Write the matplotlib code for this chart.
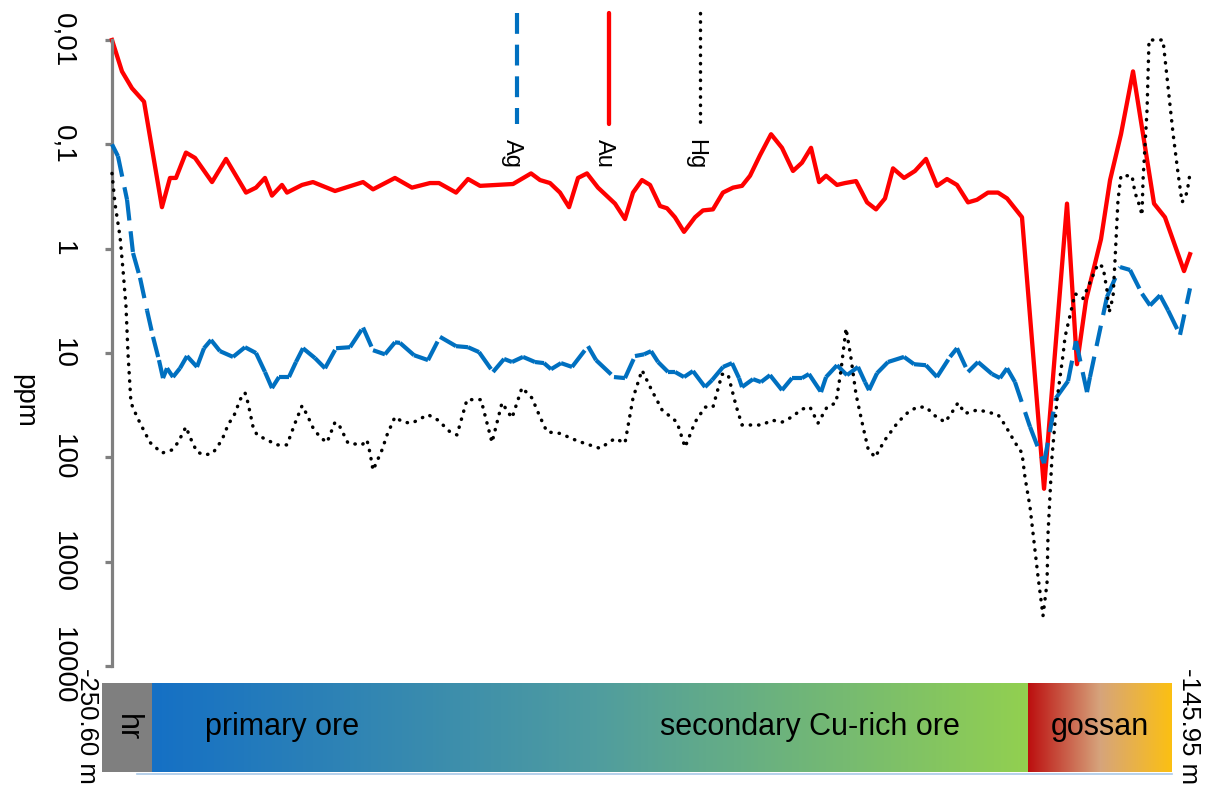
import matplotlib
matplotlib.use('Agg')
import matplotlib.pyplot as plt
import numpy as np
from matplotlib.collections import LineCollection
from matplotlib.colors import LinearSegmentedColormap
from matplotlib.lines import Line2D
from matplotlib.patches import Rectangle
from matplotlib.ticker import NullLocator

plt.rcParams['font.family'] = ['Liberation Sans', 'DejaVu Sans']

# depth (m) and concentrations (ppm)
depth_au = [-250.60, -249.63, -248.66, -247.49, -245.75, -244.97, -244.39, -243.42, -242.54, -240.89,
            -239.53, -237.59, -236.62, -235.75, -235.07, -234.10, -233.61, -232.15, -231.09, -228.95,
            -226.23, -225.26, -223.13, -221.48, -219.73, -218.86, -217.20, -216.04, -214.87, -211.67,
            -209.92, -209.05, -208.08, -207.11, -206.23, -205.36, -204.49, -203.42, -201.77, -200.80,
            -200.02, -199.15, -198.37, -197.40, -196.72, -195.95, -195.07, -194.00, -193.23, -192.26,
            -191.29, -190.31, -189.44, -188.66, -187.69, -186.62, -185.56, -184.49, -183.62, -182.74,
            -181.96, -181.28, -180.22, -179.44, -178.37, -177.30, -176.43, -175.56, -174.78, -173.71,
            -172.65, -171.58, -170.51, -169.54, -168.57, -167.50, -166.63, -165.56, -164.59, -163.71,
            -162.26, -160.12, -157.89, -156.92, -156.04, -154.59, -153.71, -152.65, -151.48, -149.44,
            -148.38, -146.53, -145.95]
au = [0.010, 0.020, 0.029, 0.039, 0.40, 0.21, 0.21, 0.12, 0.135, 0.23,
      0.138, 0.29, 0.26, 0.21, 0.31, 0.245, 0.29, 0.245, 0.23, 0.28,
      0.23, 0.27, 0.21, 0.26, 0.235, 0.235, 0.29, 0.215, 0.25, 0.24,
      0.19, 0.22, 0.235, 0.29, 0.40, 0.21, 0.19, 0.26, 0.37, 0.52,
      0.29, 0.22, 0.245, 0.39, 0.41, 0.50, 0.69, 0.50, 0.43, 0.42,
      0.29, 0.26, 0.25, 0.20, 0.127, 0.080, 0.108, 0.18, 0.15, 0.108,
      0.23, 0.20, 0.245, 0.235, 0.225, 0.36, 0.42, 0.33, 0.17, 0.21,
      0.18, 0.138, 0.25, 0.215, 0.245, 0.36, 0.34, 0.29, 0.29, 0.33,
      0.50, 200, 0.37, 12.8, 3.1, 0.81, 0.22, 0.080, 0.020, 0.37,
      0.50, 1.64, 1.13]

depth_ag = [-250.60, -250.02, -249.14, -248.56, -247.88, -247.20, -246.62, -246.04, -245.65, -245.26,
            -244.68, -244.00, -243.32, -242.35, -241.67, -240.99, -240.12, -238.85, -237.69, -236.62,
            -235.75, -235.07, -234.39, -233.42, -232.74, -232.06, -230.89, -229.92, -228.85, -227.49,
            -226.23, -225.26, -224.10, -223.13, -222.64, -221.28, -219.92, -218.76, -217.20, -216.04,
            -214.97, -213.61, -212.54, -211.77, -210.70, -209.54, -208.66, -207.98, -207.01, -205.94,
            -204.39, -203.61, -201.87, -200.80, -199.83, -198.95, -198.27, -197.59, -196.62, -195.94,
            -195.07, -194.20, -193.03, -192.35, -191.28, -190.41, -189.73, -189.44, -188.37, -187.60,
            -186.72, -185.56, -184.59, -183.62, -182.94, -181.77, -181.28, -180.22, -179.25, -178.18,
            -177.50, -177.11, -176.33, -175.27, -173.71, -172.74, -171.58, -170.51, -169.25, -168.57,
            -167.50, -166.53, -165.17, -164.39, -163.71, -162.94, -161.48, -160.12, -158.96, -157.79,
            -157.02, -155.95, -155.66, -154.01, -152.74, -151.77, -150.61, -149.83, -148.86, -148.08,
            -146.92, -145.95]
ag = [0.10, 0.13, 0.34, 1.1, 1.9, 3.9, 7.0, 11.7, 17.4, 14.0,
      17.0, 14.0, 10.7, 13.6, 9.0, 7.5, 9.6, 10.9, 8.8, 10.0,
      15.2, 21.7, 17.0, 17.0, 12.2, 9.0, 11.2, 14.0, 9.0, 8.8,
      5.7, 9.4, 10.3, 7.9, 8.0, 10.5, 11.7, 7.0, 8.6, 8.8,
      9.8, 15.2, 11.4, 12.2, 10.9, 12.2, 12.5, 14.3, 12.5, 13.6,
      8.6, 11.7, 17.0, 17.4, 10.7, 10.3, 9.6, 12.2, 15.2, 15.2,
      17.0, 14.9, 21.2, 18.2, 13.6, 12.5, 17.4, 21.2, 17.8, 19.0,
      16.3, 22.7, 17.4, 17.4, 15.9, 23.7, 17.0, 13.1, 16.3, 13.6,
      19.0, 22.7, 15.6, 12.2, 10.9, 12.8, 13.1, 17.0, 10.9, 9.0,
      15.2, 12.2, 15.9, 17.4, 14.0, 19.0, 51, 114, 27, 18.6,
      7.7, 23.7, 17.0, 2.9, 1.5, 1.6, 2.7, 3.5, 2.8, 3.9,
      6.7, 2.4]

depth_hg = [-250.60, -250.31, -249.82, -249.53, -249.24, -249.05, -248.76, -248.17, -247.69, -246.91,
            -245.75, -244.78, -244.19, -243.42, -243.03, -242.35, -241.57, -240.80, -239.92, -239.34,
            -238.66, -238.17, -237.69, -237.40, -236.91, -236.52, -235.55, -234.58, -233.61, -232.83,
            -232.15, -231.67, -231.09, -230.41, -229.73, -228.95, -228.47, -227.69, -226.33, -225.85,
            -225.55, -225.26, -224.39, -223.90, -223.13, -222.35, -221.48, -219.92, -218.95, -217.79,
            -217.11, -216.14, -214.78, -213.71, -212.74, -211.77, -210.80, -209.83, -209.05, -208.37,
            -207.11, -205.36, -203.23, -201.77, -200.80, -200.02, -199.15, -198.18, -197.21, -195.75,
            -194.97, -194.00, -193.03, -192.26, -191.38, -190.80, -190.02, -189.44, -188.47, -187.50,
            -186.53, -185.56, -184.59, -183.62, -182.84, -182.06, -181.19, -180.31, -179.83, -179.34,
            -178.86, -178.37, -177.69, -177.21, -176.53, -175.56, -174.30, -173.32, -172.45, -171.58,
            -170.70, -169.73, -169.05, -168.47, -167.79, -166.53, -164.59, -163.91, -162.94, -162.26,
            -161.97, -161.48, -161.00, -160.70, -160.22, -159.83, -159.73, -159.35, -158.86, -158.28,
            -158.08, -157.11, -156.34, -155.46, -154.88, -154.39, -154.01, -153.81, -153.42, -153.23,
            -152.94, -152.65, -151.58, -151.29, -150.80, -150.61, -150.51, -150.12, -149.93, -148.57,
            -148.08, -147.60, -147.11, -146.72, -146.24, -145.95]
hg = [0.19, 0.37, 0.77, 1.6, 3.6, 10, 30, 41, 51, 72,
      91, 85, 72, 51, 64, 89, 95, 91, 68, 49,
      38, 28, 24, 30, 51, 61, 68, 76, 76, 47,
      32, 39, 52, 64, 72, 46, 51, 73, 76, 68,
      91, 133, 85, 61, 41, 46, 47, 39, 44, 57,
      61, 28, 28, 72, 30, 42, 21.5, 27, 41, 57,
      59, 70, 82, 66, 73, 27, 14.6, 23, 35, 46,
      80, 46, 33, 33, 16, 16, 32, 49, 49, 49,
      44, 46, 41, 34.5, 33, 47, 33, 30, 14.6, 5.8,
      11.2, 25, 51, 82, 100, 68, 46, 37, 33, 33,
      40, 46, 37, 30, 38, 35, 39, 49, 72, 91,
      155, 300, 780, 1400, 3300, 1600, 530, 100, 28, 10.5,
      7.0, 2.7, 3.0, 1.9, 1.4, 1.5, 2.5, 4.1, 2.9, 1.3,
      0.34, 0.2, 0.2, 0.29, 0.4, 0.48, 0.22, 0.047, 0.01, 0.01,
      0.028, 0.078, 0.19, 0.36, 0.29, 0.19]

y_ticks = [0.01, 0.1, 1, 10, 100, 1000, 10000]
y_labels = ['0,01', '0,1', '1', '10', '100', '1000', '10000']
zones = ['hr', 'primary ore', 'secondary Cu-rich ore', 'gossan']
depth_top, depth_bottom = -145.95, -250.60

W, H = 1205, 791
fig = plt.figure(figsize=(W / 100, H / 100), dpi=100)

def fx(px):
    return px / W

def fy(py):
    return 1 - py / H

ax = fig.add_axes([fx(112), fy(666), fx(1190) - fx(112), fy(40) - fy(666)])
ax.patch.set_alpha(0)

blue, red = '#0070C0', '#FF0000'
lw_ag, lw_au, lw_hg = 3.0, 3.1, 2.5
dash = (0, (5.0, 2.6))
dots = (0, (0.1, 2.3))

ax.plot(depth_au, au, color=red, lw=lw_au, clip_on=False, zorder=2)

# each segment restarts its dash pattern, like the original spreadsheet chart
pts = np.column_stack([depth_ag, ag])
segs = np.stack([pts[:-1], pts[1:]], axis=1)
lc = LineCollection(segs, colors=blue, linewidths=lw_ag, linestyles=[dash],
                    capstyle='butt', clip_on=False, zorder=3)
ax.add_collection(lc)

ax.plot(depth_hg, hg, color='black', lw=lw_hg, linestyle=dots,
        dash_capstyle='round', clip_on=False, zorder=4)

ax.set_yscale('log')
ax.set_xlim(depth_bottom, depth_top)
ax.set_ylim(10000, 0.01)
ax.set_yticks(y_ticks)
ax.set_yticklabels(y_labels, rotation=-90, va='center', fontsize=20)
ax.yaxis.set_minor_locator(NullLocator())
ax.set_xticks([])
for s in ['top', 'right', 'bottom']:
    ax.spines[s].set_visible(False)
ax.spines['left'].set_color('#808080')
ax.spines['left'].set_linewidth(2.3)
ax.tick_params(axis='y', length=5, width=2.3, color='#808080', pad=21)

fig.text(fx(24), fy(401), 'ppm', rotation=-90, ha='center', va='center', fontsize=20)

# legend drawn as vertical samples with rotated names
for x, col, ls, name, lw in [(517, blue, dash, 'Ag', lw_ag),
                             (609, red, '-', 'Au', lw_au),
                             (700, 'black', dots, 'Hg', lw_hg)]:
    ln = Line2D([fx(x), fx(x)], [fy(13), fy(124)], transform=fig.transFigure,
                color=col, lw=lw, linestyle=ls, dash_capstyle='round' if name == 'Hg' else 'butt',
                solid_capstyle='round')
    fig.add_artist(ln)
    fig.text(fx(x - 5), fy(139), name, rotation=-90, ha='center', va='top', fontsize=17)

# lithology bar
bax = fig.add_axes([fx(102), fy(772), fx(1172) - fx(102), fy(683) - fy(772)])
bax.set_xlim(0, 1)
bax.set_ylim(0, 1)
bax.axis('off')
hr_end = 50 / 1070
ore_end = 926 / 1070
grad = np.linspace(0, 1, 256)[None, :]
ore_cmap = LinearSegmentedColormap.from_list('ore', ['#1570C5', '#4F9CA0', '#92D050'])
gos_cmap = LinearSegmentedColormap.from_list('gos', ['#BC0F0F', '#D6A47C', '#FCC012'])
bax.add_patch(Rectangle((0, 0), hr_end, 1, color='#7F7F7F', lw=0))
bax.imshow(grad, cmap=ore_cmap, extent=[hr_end, ore_end, 0, 1], aspect='auto')
bax.imshow(grad, cmap=gos_cmap, extent=[ore_end, 1, 0, 1], aspect='auto')
bax.text(hr_end / 2, 0.5, zones[0], rotation=-90, ha='center', va='center', fontsize=22)
bax.text(0.168, 0.5, zones[1], ha='center', va='center', fontsize=22)
bax.text(0.662, 0.5, zones[2], ha='center', va='center', fontsize=22)
bax.text(0.933, 0.5, zones[3], ha='center', va='center', fontsize=22)

fig.add_artist(Line2D([fx(137), fx(1172)], [fy(774), fy(774)], transform=fig.transFigure,
                      color='#A9C8E8', lw=1.2))

fig.text(fx(87), fy(668), '%.2f m' % depth_bottom, rotation=-90, ha='center', va='top', fontsize=18.5)
fig.text(fx(1189), fy(668), '%.2f m' % depth_top, rotation=-90, ha='center', va='top', fontsize=18.5)

fig.savefig('out.png', dpi=100)
